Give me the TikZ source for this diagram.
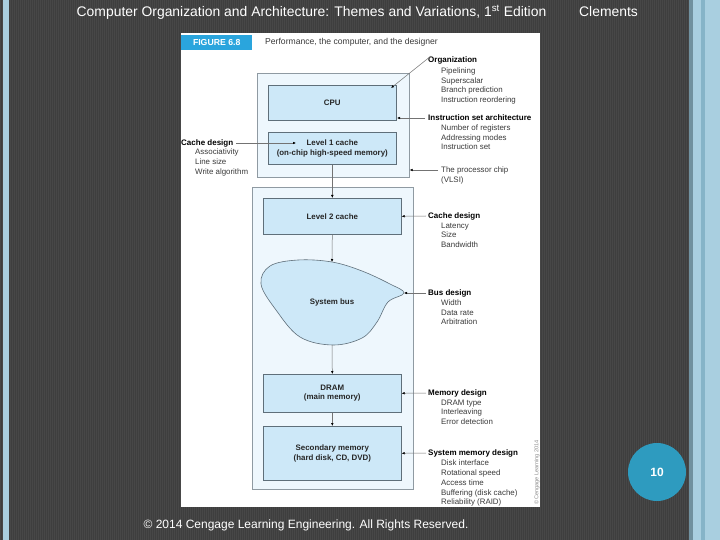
\documentclass[tikz,border=0pt]{standalone}
\usepackage{fontspec}
\setmainfont{Liberation Sans}
\usetikzlibrary{arrows.meta}
\definecolor{bgdark}{HTML}{3E3E3E}
\definecolor{bgstripe}{HTML}{474747}
\definecolor{sideblue}{HTML}{A9CFE0}
\definecolor{sideblue2}{HTML}{86B4C8}
\definecolor{boxfill}{HTML}{CDE8F8}
\definecolor{outerfill}{HTML}{EEF7FD}
\definecolor{boxline}{HTML}{5F6F7A}
\definecolor{figblue}{HTML}{2AA5DD}
\definecolor{circblue}{HTML}{2E9BBF}
\definecolor{itemgray}{HTML}{3A3A3A}
\tikzset{
  unitbox/.style={draw=boxline, line width=0.6pt, fill=boxfill, inner sep=0, anchor=north west,
    font=\bfseries\fontsize{7.9}{9.5}\selectfont, align=center, text=black!85},
  outerbox/.style={draw=boxline!70, line width=0.6pt, fill=outerfill, inner sep=0, anchor=north west},
  head/.style={anchor=west, inner sep=0, font=\bfseries\fontsize{8}{9.5}\selectfont, text=black},
  items/.style={anchor=north west, inner sep=0, align=left, font=\fontsize{7.9}{9.75}\selectfont, text=itemgray},
  conn/.style={draw=black!55, line width=0.5pt, -{Latex[length=3pt,width=2.6pt,black]}},
}
\begin{document}
\begin{tikzpicture}[x=1pt,y=-1pt]
\useasboundingbox (0,0) rectangle (720,540);
% background
\fill[bgdark] (0,0) rectangle (720,540);
\foreach \x in {0,2,...,720} {\fill[bgstripe] (\x,0) rectangle (\x+0.8,540);}
\fill[sideblue] (3,0) rectangle (9,540);
\fill[sideblue2!70!bgdark] (689,0) rectangle (693,540);
\fill[sideblue] (693,0) rectangle (720,540);
\fill[sideblue2] (701,0) rectangle (705,540);
% slide title
\node[text=white, font=\fontsize{13.9}{16}\selectfont, inner sep=0] (title) at (311.5,12)
  {Computer Organization and Architecture: Themes and Variations, 1\textsuperscript{st} Edition};
\node[text=white, font=\fontsize{13.9}{16}\selectfont, inner sep=0] (author) at (608.5,12) {Clements};
% figure panel
\node[fill=white, inner sep=0, minimum width=359, minimum height=474, anchor=north west] (panel) at (181,33) {};
\node[fill=figblue, inner sep=0, minimum width=71, minimum height=15, anchor=north west,
  text=white, font=\bfseries\fontsize{8.7}{10}\selectfont] (figlab) at (181,35) {FIGURE 6.8};
\node[anchor=west, inner sep=0, font=\fontsize{8.6}{10}\selectfont, text=itemgray] (figtitle) at (265,42)
  {Performance, the computer, and the designer};
% boxes
\node[outerbox, minimum width=152, minimum height=104] (chip) at (257,73) {};
\node[unitbox, minimum width=128, minimum height=35] (cpu) at (268,85) {CPU};
\node[unitbox, minimum width=128, minimum height=32] (l1) at (268,132) {Level 1 cache\\(on-chip high-speed memory)};
\node[outerbox, minimum width=161, minimum height=302] (board) at (252,187) {};
\node[unitbox, minimum width=138, minimum height=36] (l2) at (263,198) {Level 2 cache};
\node[unitbox, minimum width=138, minimum height=38] (dram) at (263,374) {DRAM\\(main memory)};
\node[unitbox, minimum width=138, minimum height=54] (sec) at (263,426) {Secondary memory\\(hard disk, CD, DVD)};
% system bus blob
\draw[draw=boxline, line width=0.6pt, fill=boxfill]
  plot[smooth cycle, tension=0.6] coordinates {(332,262) (362,271) (390,284) (404,293) (388,302) (377,322) (362,338) (333,345) (300,337) (276,310) (261,284) (270,266) (298,260)};
\coordinate (bustop) at (332,262);
\coordinate (busbot) at (332,345);
\coordinate (bustip) at (404,293);
\node[inner sep=0, font=\bfseries\fontsize{7.9}{9.5}\selectfont, text=black!85] (buslab) at (332,302) {System bus};
% vertical connectors
\draw[conn] (l1.south) -- (l2.north);
\draw[conn] (l2.south) -- (bustop);
\draw[conn] (busbot) -- (dram.north);
\draw[conn] (dram.south) -- (sec.north);
% right-hand labels
\node[head] (org) at (428,60) {Organization};
\node[items] (orgI) at (441,67.5) {Pipelining\\Superscalar\\Branch prediction\\Instruction reordering};
\node[head] (isa) at (428,118) {Instruction set architecture};
\node[items] (isaI) at (441,124.5) {Number of registers\\Addressing modes\\Instruction set};
\node[items] (vlsi) at (441,166.5) {The processor chip\\(VLSI)};
\node[head] (cd2) at (428,216) {Cache design};
\node[items] (cd2I) at (441,222.5) {Latency\\Size\\Bandwidth};
\node[head] (bd) at (428,293) {Bus design};
\node[items] (bdI) at (441,299.5) {Width\\Data rate\\Arbitration};
\node[head] (md) at (428,393) {Memory design};
\node[items] (mdI) at (441,399.5) {DRAM type\\Interleaving\\Error detection};
\node[head] (smd) at (428,453) {System memory design};
\node[items] (smdI) at (441,460) {Disk interface\\Rotational speed\\Access time\\Buffering (disk cache)\\Reliability (RAID)};
% left-hand label
\node[head] (cd1) at (181,143) {Cache design};
\node[items] (cd1I) at (195,149) {Associativity\\Line size\\Write algorithm};
% label connectors
\coordinate (orgend) at (391,88);
\coordinate (isaend) at (397,118);
\coordinate (l1end) at (296,143);
\draw[conn] ([xshift=3pt,yshift=4pt]org.west) -- (orgend);
\draw[conn] ([xshift=-3pt]isa.west) -- (isaend);
\draw[conn] (438,170) -- (chip.east |- 0,170);
\draw[conn] ([xshift=-2pt]cd2.west) -- (l2.east);
\draw[conn] ([xshift=-2pt]bd.west) -- (bustip);
\draw[conn] ([xshift=-2pt]md.west) -- (dram.east);
\draw[conn] ([xshift=-2pt]smd.west) -- (sec.east);
\draw[conn] ([xshift=3pt]cd1.east) -- (l1end);
% copyright on figure
\node[rotate=90, inner sep=0, font=\fontsize{5.6}{6}\selectfont, text=black!45] (figcopy) at (537,472) {\textcopyright Cengage Learning 2014};
% page number
\node[circle, fill=circblue, minimum size=58, inner sep=0, text=white, font=\bfseries\fontsize{12}{14}\selectfont] (pgnum) at (657,472) {10};
% footer
\node[text=white, font=\fontsize{12}{14}\selectfont, inner sep=0] (footer) at (306,525)
  {\textcopyright{} 2014 Cengage Learning Engineering. All Rights Reserved.};
\end{tikzpicture}
\end{document}
